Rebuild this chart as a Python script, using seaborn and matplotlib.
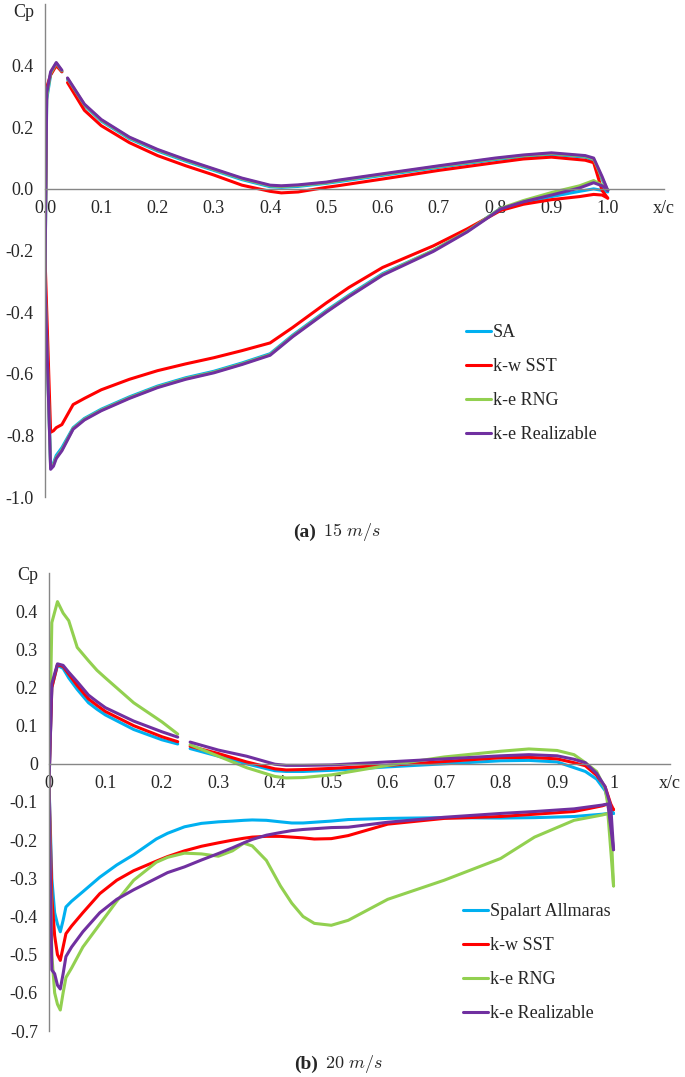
import numpy as np
import pandas as pd
import seaborn as sns
from matplotlib import pyplot as plt

# ---- panel (a): 15 m/s ----
models_a = ['SA', 'k-w SST', 'k-e RNG', 'k-e Realizable']
x_up_a = [1.0, 0.99, 0.975, 0.96, 0.9, 0.85, 0.8, 0.7, 0.6, 0.52, 0.5, 0.45, 0.42, 0.4,
          0.35, 0.3, 0.25, 0.2, 0.15, 0.1, 0.07, 0.04, 0.035, 0.03, 0.02, 0.01, 0.003, 0.0]
x_low_a = [0.0, 0.01, 0.015, 0.02, 0.03, 0.05, 0.07, 0.1, 0.15, 0.2, 0.25, 0.3, 0.35, 0.4,
           0.44, 0.5, 0.54, 0.6, 0.69, 0.75, 0.81, 0.85, 0.9, 0.95, 0.975, 0.99, 1.0]

sa_up_a = [-0.005, 0.03, 0.093, 0.103, 0.112, 0.105, 0.095, 0.07, 0.044, 0.023, 0.018, 0.008, 0.005,
           0.007, 0.03, 0.06, 0.09, 0.123, 0.163, 0.22, 0.27, 0.355, np.nan, 0.38, 0.405, 0.37, 0.29, -0.3]
sst_up_a = [-0.03, -0.005, 0.085, 0.093, 0.103, 0.097, 0.085, 0.06, 0.032, 0.01, 0.005, -0.01, -0.013,
            -0.008, 0.012, 0.045, 0.075, 0.108, 0.15, 0.205, 0.255, 0.345, np.nan, 0.38, 0.40, 0.37, 0.33, -0.22]
rng_up_a = [-0.005, 0.035, 0.097, 0.106, 0.115, 0.108, 0.098, 0.073, 0.047, 0.026, 0.02, 0.011, 0.008,
            0.01, 0.033, 0.063, 0.093, 0.126, 0.166, 0.223, 0.273, 0.358, np.nan, 0.383, 0.408, 0.375, 0.3, -0.3]
rea_up_a = [-0.005, 0.04, 0.1, 0.108, 0.117, 0.11, 0.10, 0.075, 0.049, 0.028, 0.022, 0.013, 0.01,
            0.012, 0.035, 0.065, 0.095, 0.128, 0.168, 0.225, 0.275, 0.36, np.nan, 0.385, 0.41, 0.38, 0.31, -0.3]

sa_low_a = [-0.3, -0.90, -0.89, -0.865, -0.84, -0.775, -0.745, -0.715, -0.675, -0.64, -0.613, -0.592, -0.565,
            -0.535, -0.475, -0.395, -0.345, -0.275, -0.2, -0.137, -0.063, -0.045, -0.025, -0.008, 0.0, -0.005, -0.01]
sst_low_a = [-0.22, -0.79, -0.785, -0.775, -0.765, -0.70, -0.68, -0.652, -0.618, -0.59, -0.568, -0.548, -0.525,
             -0.50, -0.45, -0.37, -0.32, -0.255, -0.185, -0.13, -0.07, -0.05, -0.035, -0.025, -0.018, -0.02, -0.03]
rng_low_a = [-0.3, -0.905, -0.895, -0.872, -0.847, -0.778, -0.748, -0.718, -0.678, -0.643, -0.616, -0.595, -0.568,
             -0.538, -0.478, -0.398, -0.348, -0.278, -0.2, -0.138, -0.063, -0.038, -0.012, 0.01, 0.027, 0.012, -0.005]
rea_low_a = [-0.3, -0.91, -0.9, -0.875, -0.85, -0.78, -0.75, -0.72, -0.68, -0.645, -0.618, -0.597, -0.57,
             -0.54, -0.48, -0.40, -0.35, -0.28, -0.203, -0.14, -0.065, -0.042, -0.02, 0.003, 0.02, 0.01, -0.005]

# ---- panel (b): 20 m/s ----
models_b = ['Spalart Allmaras', 'k-w SST', 'k-e RNG', 'k-e Realizable']
x_up_b = [1.0, 0.995, 0.985, 0.97, 0.95, 0.93, 0.9, 0.85, 0.8, 0.7, 0.6, 0.5, 0.45, 0.42, 0.4,
          0.35, 0.3, 0.25, 0.24, 0.228, 0.2, 0.15, 0.1, 0.085, 0.07, 0.05, 0.035, 0.025, 0.015, 0.005, 0.0]
x_low_b = [0.0, 0.005, 0.01, 0.015, 0.02, 0.025, 0.03, 0.04, 0.06, 0.09, 0.12, 0.15, 0.19, 0.21,
           0.24, 0.27, 0.3, 0.325, 0.345, 0.36, 0.385, 0.41, 0.43, 0.45, 0.47, 0.5, 0.53, 0.6,
           0.7, 0.8, 0.86, 0.93, 0.98, 0.99, 1.0]

sa_up_b = [-0.13, -0.115, -0.07, -0.04, -0.02, -0.01, 0.005, 0.009, 0.008, 0.0, -0.008, -0.017, -0.02, -0.02,
           -0.018, 0.0, 0.02, 0.04, np.nan, 0.052, 0.063, 0.09, 0.128, 0.143, 0.16, 0.195, 0.225, 0.25, 0.258,
           0.2, -0.05]
sst_up_b = [-0.12, -0.105, -0.06, -0.03, -0.005, 0.003, 0.013, 0.017, 0.016, 0.006, -0.004, -0.012, -0.015, -0.016,
            -0.013, 0.005, 0.027, 0.046, np.nan, 0.058, 0.071, 0.1, 0.137, 0.153, 0.17, 0.205, 0.235, 0.255, 0.26,
            0.2, -0.05]
rng_up_b = [-0.32, -0.15, -0.065, -0.02, 0.003, 0.024, 0.035, 0.039, 0.033, 0.018, -0.004, -0.029, -0.036, -0.037,
            -0.033, -0.01, 0.02, 0.05, np.nan, 0.078, 0.11, 0.16, 0.225, 0.245, 0.27, 0.305, 0.375, 0.395, 0.425,
            0.37, -0.05]
rea_up_b = [-0.225, -0.11, -0.06, -0.025, 0.003, 0.012, 0.021, 0.024, 0.021, 0.013, 0.005, -0.003, -0.004, -0.004,
            -0.001, 0.02, 0.036, 0.057, np.nan, 0.07, 0.084, 0.112, 0.147, 0.163, 0.18, 0.215, 0.24, 0.258, 0.262,
            0.21, -0.05]

sa_low_b = [-0.05, -0.3, -0.39, -0.42, -0.44, -0.41, -0.375, -0.36, -0.335, -0.297, -0.265, -0.238, -0.197,
            -0.182, -0.165, -0.156, -0.152, -0.15, -0.148, -0.147, -0.148, -0.152, -0.155, -0.155, -0.153,
            -0.15, -0.146, -0.143, -0.141, -0.142, -0.141, -0.138, -0.132, -0.13, -0.13]
sst_low_b = [-0.05, -0.35, -0.45, -0.5, -0.515, -0.48, -0.445, -0.425, -0.39, -0.34, -0.305, -0.28, -0.255,
             -0.243, -0.228, -0.216, -0.207, -0.2, -0.195, -0.192, -0.19, -0.19, -0.192, -0.194, -0.197,
             -0.196, -0.188, -0.158, -0.143, -0.138, -0.132, -0.125, -0.11, -0.105, -0.12]
rng_low_b = [-0.05, -0.5, -0.6, -0.63, -0.645, -0.6, -0.56, -0.535, -0.48, -0.42, -0.36, -0.305, -0.258,
             -0.245, -0.234, -0.236, -0.242, -0.228, -0.208, -0.215, -0.253, -0.32, -0.365, -0.4, -0.418,
             -0.423, -0.41, -0.355, -0.305, -0.248, -0.192, -0.148, -0.134, -0.13, -0.32]
rea_low_b = [-0.05, -0.54, -0.55, -0.58, -0.59, -0.55, -0.505, -0.48, -0.44, -0.39, -0.355, -0.33, -0.3,
             -0.285, -0.27, -0.252, -0.235, -0.22, -0.207, -0.198, -0.187, -0.18, -0.175, -0.172, -0.17,
             -0.167, -0.166, -0.153, -0.14, -0.13, -0.125, -0.118, -0.108, -0.105, -0.225]

colors = ['#00B0F0', '#FF0000', '#92D050', '#7030A0']
GRAY = '#868686'


def surface_frame(models, x_up, x_low, ups, lows):
    frames = []
    for model, up, low in zip(models, ups, lows):
        cp = np.array(up + low, dtype=float)
        x = np.array(x_up + x_low, dtype=float)
        seg = np.cumsum(np.isnan(cp))  # a gap in the curve starts a new segment
        frames.append(pd.DataFrame({'x': x, 'cp': cp, 'model': model, 'seg': seg}).dropna())
    return pd.concat(frames, ignore_index=True)


def fmt(v, fixed):
    v = round(float(v), 1) + 0.0  # avoid "-0.0"
    if fixed:
        return f'{v:.1f}'
    return '0' if v == 0 else f'{v:g}'


def draw_panel(ax, df, models, ylim, yticks, fixed):
    sns.lineplot(data=df, x='x', y='cp', hue='model', hue_order=models, units='seg',
                 estimator=None, sort=False, palette=colors, linewidth=2.2, ax=ax)
    ax.set_xlim(0, 1.1)
    ax.set_ylim(*ylim)
    for s in ['top', 'right']:
        ax.spines[s].set_visible(False)
    ax.spines['bottom'].set_position(('data', 0))
    for s in ['left', 'bottom']:
        ax.spines[s].set_color(GRAY)
        ax.spines[s].set_linewidth(1.0)
    ax.set_yticks(yticks)
    ax.set_yticklabels([fmt(v, fixed) for v in yticks[:-1]] + ['Cp'])
    xt = np.arange(12) / 10
    ax.set_xticks(xt)
    ax.set_xticklabels([fmt(v, fixed) for v in xt[:-1]] + ['x/c'])
    ax.set_xlabel('')
    ax.set_ylabel('')
    ax.tick_params(axis='both', direction='out', length=5, width=1.0, color=GRAY,
                   labelsize=13, pad=3)


sns.set_style('white')
plt.rcParams['font.family'] = ['Liberation Serif', 'DejaVu Serif']
plt.rcParams['mathtext.fontset'] = 'cm'
plt.rcParams['axes.unicode_minus'] = False
plt.rcParams['font.size'] = 13

fig = plt.figure(figsize=(6.85, 10.77), dpi=100)
W, H = 685, 1077

df_a = surface_frame(models_a, x_up_a, x_low_a,
                     [sa_up_a, sst_up_a, rng_up_a, rea_up_a],
                     [sa_low_a, sst_low_a, rng_low_a, rea_low_a])
df_b = surface_frame(models_b, x_up_b, x_low_b,
                     [sa_up_b, sst_up_b, rng_up_b, rea_up_b],
                     [sa_low_b, sst_low_b, rng_low_b, rea_low_b])

ax1 = fig.add_axes([45 / W, 1 - 497 / H, (664 - 45) / W, (497 - 4) / H])
ax2 = fig.add_axes([49 / W, 1 - 1031 / H, (670 - 49) / W, (1031 - 573) / H])

draw_panel(ax1, df_a, models_a, (-1.0, 0.6), np.arange(-10, 7, 2) / 10, True)
draw_panel(ax2, df_b, models_b, (-0.7, 0.5), np.arange(-7, 6) / 10, False)

# top "Cp" sits just under the figure edge
ax1.get_yticklabels()[-1].set_verticalalignment('top')

for ax, (lx, ly) in [(ax1, (466, 324)), (ax2, (463, 903))]:
    leg = ax.get_legend()
    handles = leg.legend_handles
    labels = [t.get_text() for t in leg.get_texts()]
    leg.remove()
    ax.legend(handles, labels, loc='upper left', bbox_to_anchor=(lx / W, 1 - ly / H),
              bbox_transform=fig.transFigure, frameon=False, fontsize=13,
              handlelength=1.4, handletextpad=0.1, labelspacing=0.95, borderpad=0,
              borderaxespad=0)

fig.text(293 / W, 1 - 532 / H, '(a)', fontsize=14, fontweight='bold', va='center', ha='left')
fig.text(323 / W, 1 - 532 / H, r'$\mathrm{15}\ m/s$', fontsize=13, va='center', ha='left')
fig.text(294 / W, 1 - 1064 / H, '(b)', fontsize=14, fontweight='bold', va='center', ha='left')
fig.text(325 / W, 1 - 1064 / H, r'$\mathrm{20}\ m/s$', fontsize=13, va='center', ha='left')

fig.savefig('out.png', dpi=100)
